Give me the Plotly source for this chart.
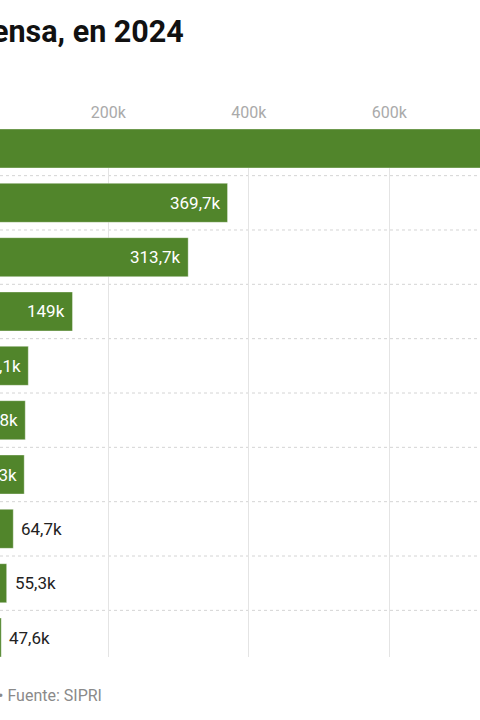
import plotly.graph_objects as go

# Data (millones de USD)
paises = ["Estados Unidos", "Unión Europea", "China", "Rusia", "India",
          "Reino Unido", "Arabia Saudí", "Ucrania", "Japón", "Corea del Sur"]
gasto = [997000, 369700, 313700, 149000, 86100, 81800, 80300, 64700, 55300, 47600]
tick_vals = [0, 200000, 400000, 600000, 800000]

titulo = "Los países con mayor gasto en defensa, en 2024"
fuente = "Gráfico: elaboración propia • Fuente: SIPRI"

BAR = "#51852b"
FONT = "Roboto"

W, H = 480, 720
MT, MB = 128.5, 63
PH = H - MT - MB


def fmt(v):
    s = f"{v/1000:.1f}".rstrip("0").rstrip(".")
    return s.replace(".", ",") + "k"


def ypaper(px):
    return (H - MB - px) / PH


fig = go.Figure()
fig.add_trace(go.Bar(
    x=gasto, y=paises, orientation="h",
    marker=dict(color=BAR, line=dict(color="rgba(255,255,255,0.35)", width=1)),
    width=0.717, hoverinfo="x+y", cliponaxis=True,
))

ann = []
for p, v in zip(paises, gasto):
    inside = v >= 70000
    ann.append(dict(
        x=v, y=p, xref="x", yref="y", text=fmt(v), showarrow=False,
        xanchor="right" if inside else "left",
        xshift=-5 if inside else 6,
        font=dict(family=FONT, size=17, color="#ffffff" if inside else "#222222"),
    ))

ann.append(dict(x=186 / W, y=ypaper(31), xref="paper", yref="paper", text=titulo,
                showarrow=False, xanchor="right", yanchor="middle",
                font=dict(family=FONT, size=30.5, color="#111111", weight="bold")))
ann.append(dict(x=104 / W, y=ypaper(696), xref="paper", yref="paper", text=fuente,
                showarrow=False, xanchor="right", yanchor="middle",
                font=dict(family=FONT, size=16, color="#8a8a8a")))

shapes = []
for i in range(len(paises) - 1):
    shapes.append(dict(type="line", xref="paper", x0=0, x1=1, yref="y",
                       y0=i + 0.5, y1=i + 0.5, layer="below",
                       line=dict(color="#d4d4d4", width=1, dash="dot")))

fig.update_layout(
    width=W, height=H,
    margin=dict(l=0, r=0, t=MT, b=MB, pad=0),
    paper_bgcolor="white", plot_bgcolor="white",
    showlegend=False, separators=",.",
    font=dict(family=FONT),
    annotations=ann, shapes=shapes,
    xaxis=dict(
        side="top", range=[45840, 729100], tickvals=tick_vals, tickformat="~s",
        showgrid=True, gridcolor="#e4e4e4", gridwidth=1.3, zeroline=False,
        showline=False, ticks="", automargin=False, ticklabelstandoff=7,
        tickfont=dict(family=FONT, size=16, color="#aaaaaa"),
    ),
    yaxis=dict(
        range=[9.3585, -0.3585], showgrid=False, zeroline=False, showline=False,
        showticklabels=False, ticks="", automargin=False,
    ),
)

fig.write_html(
    "out.html",
    config={"displayModeBar": False},
    post_script="document.body.style.margin='0';document.body.style.overflow='hidden';",
)
